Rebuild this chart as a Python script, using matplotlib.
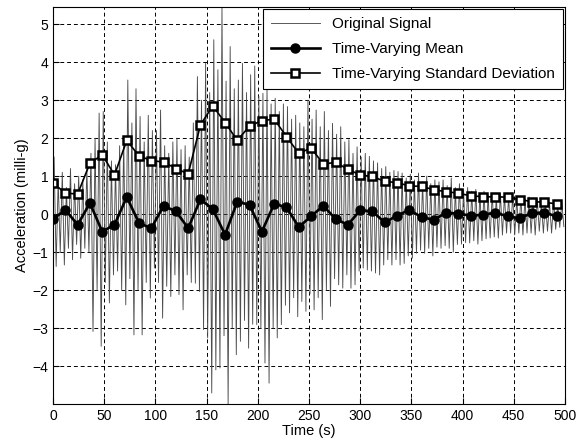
# Time-varying mean and standard deviation of an acceleration record
import numpy as np
import matplotlib.pyplot as plt

plt.rcParams['font.family'] = ['Liberation Sans', 'DejaVu Sans']

# window centres (s) for the time-varying statistics
win_time = [0, 12, 24, 36, 48, 60, 72, 84, 96, 108, 120, 132, 144, 156,
            168, 180, 192, 204, 216, 228, 240, 252, 264, 276, 288, 300,
            312, 324, 336, 348, 360, 372, 384, 396, 408, 420, 432, 444,
            456, 468, 480, 492]

tv_mean = [-0.13, 0.11, -0.28, 0.29, -0.46, -0.28, 0.45, -0.24, -0.37, 0.22,
           0.07, -0.37, 0.39, 0.13, -0.54, 0.33, 0.24, -0.46, 0.27, 0.18,
           -0.34, -0.06, 0.22, -0.13, -0.28, 0.10, 0.07, -0.22, -0.04, 0.11,
           -0.08, -0.15, 0.04, 0.01, -0.04, -0.02, 0.04, -0.06, -0.11, 0.03,
           0.04, -0.06]

tv_std = [0.82, 0.55, 0.53, 1.34, 1.56, 1.03, 1.94, 1.53, 1.41, 1.37,
          1.20, 1.06, 2.35, 2.85, 2.41, 1.94, 2.32, 2.46, 2.50, 2.04,
          1.60, 1.74, 1.32, 1.36, 1.18, 1.03, 0.99, 0.86, 0.83, 0.74,
          0.73, 0.64, 0.59, 0.55, 0.48, 0.46, 0.45, 0.45, 0.38, 0.33,
          0.31, 0.27]

# original signal, read as alternating peaks (t = 1, 5, 9, ...) and troughs (t = 3, 7, 11, ...)
sig_peaks = [1.5, 0.9, 1.1, 0.7, 1.2, 0.8, 1.0, 0.9, 1.2, 1.6,
             2.0, 2.66, 2.7, 1.9, 1.4,
             1.3, 1.8, 2.0, 3.53, 2.4, 3.3, 2.57, 1.9, 2.6, 2.2,
             2.2, 2.74, 1.8, 1.6, 1.9, 2.0, 1.7, 1.8, 1.5, 2.4,
             3.62, 3.0, 3.97, 3.2, 4.59, 3.8, 5.45, 3.5, 4.41, 3.3,
             3.53, 3.97, 3.2, 3.67, 3.9, 3.1, 3.18, 3.36, 2.9, 3.05,
             2.7, 2.9, 2.83, 2.5, 2.6, 2.4, 2.3, 3.0, 2.5, 2.74,
             2.3, 2.7, 2.2, 2.39, 2.1, 2.3, 1.9, 1.96, 1.6, 1.77,
             1.5, 1.6, 1.52, 1.4, 1.35, 1.2, 1.25, 1.1, 1.15, 1.12,
             1.08, 0.95, 1.05, 0.9, 1.08, 0.85, 1.0, 0.8, 0.9, 0.85,
             0.9, 0.75, 0.95, 0.7, 0.8, 0.65, 0.7, 0.6, 0.65, 0.55,
             0.6, 0.5, 0.55, 0.45, 0.55, 0.5, 0.45, 0.5, 0.4, 0.45,
             0.4, 0.45, 0.35, 0.4, 0.3, 0.35, 0.3, 0.35, 0.25, 0.3]

sig_troughs = [-1.38, -1.0, -1.34, -0.9, -1.2, -0.8, -1.16, -0.9, -1.0, -3.09,
               -2.0, -3.48, -1.8, -2.34, -1.6,
               -1.5, -2.0, -2.39, -1.7, -3.18, -2.0, -3.18, -1.8, -2.21, -1.42,
               -1.8, -2.74, -1.9, -2.17, -1.6, -2.12, -2.52, -1.6, -1.8, -1.82,
               -2.04, -3.04, -3.26, -4.71, -4.1, -4.05, -3.2, -5.0, -3.0, -3.7,
               -3.35, -2.8, -3.53, -2.9, -2.91, -3.0, -3.92, -4.45, -3.0, -3.26,
               -2.91, -2.4, -2.6, -2.2, -2.7, -2.3, -2.56, -2.1, -2.52, -2.2,
               -2.78, -2.0, -2.43, -1.7, -1.86, -1.95, -1.6, -1.95, -1.86, -1.5,
               -1.42, -1.47, -1.5, -1.55, -1.6, -1.34, -1.2, -1.34, -1.2, -1.34,
               -1.3, -1.1, -1.16, -1.03, -0.95, -1.03, -0.9, -1.1, -0.87, -0.9,
               -0.83, -0.9, -1.0, -0.8, -0.79, -0.75, -0.76, -0.7, -0.79, -0.7,
               -0.65, -0.63, -0.6, -0.63, -0.55, -0.5, -0.5, -0.55, -0.5, -0.55,
               -0.5, -0.5, -0.55, -0.45, -0.5, -0.45, -0.5, -0.4, -0.35, -0.33]

# interleave peaks and troughs into one trace
t_peak = np.arange(len(sig_peaks)) * 4 + 1
t_trough = t_peak + 2
sig_t = np.column_stack([t_peak, t_trough]).ravel()
sig_v = np.column_stack([sig_peaks, sig_troughs]).ravel()

fig = plt.figure(figsize=(5.77, 4.43), dpi=100)
ax = fig.add_axes([0.092, 0.088, 0.887, 0.896])

ax.plot(sig_t, sig_v, color='0.3', lw=0.65, label='Original Signal')
ax.plot(win_time, tv_mean, color='k', lw=1.9, marker='o', ms=6.5,
        mfc='k', label='Time-Varying Mean')
ax.plot(win_time, tv_std, color='k', lw=1.2, marker='s', ms=6,
        mfc='white', mew=1.8, label='Time-Varying Standard Deviation')

ax.set_xlim(0, 500)
ax.set_ylim(-5, 5.45)
ax.set_xticks(np.arange(0, 501, 50))
ax.set_yticks(np.arange(-4, 6, 1))
ax.tick_params(direction='in', labelsize=10, length=4)
ax.grid(True, color='k', lw=0.7, linestyle=(0, (4, 3)))
ax.set_xlabel('Time (s)', fontsize=10.5, labelpad=1)
ax.set_ylabel('Acceleration (milli-g)', fontsize=10.5, labelpad=2)

leg = ax.legend(loc='upper right', bbox_to_anchor=(0.997, 0.995),
                borderaxespad=0, fontsize=11, handlelength=3.2,
                labelspacing=0.7, borderpad=0.55, fancybox=False,
                framealpha=1, edgecolor='k')
leg.get_frame().set_linewidth(0.8)

fig.savefig('out.png', dpi=100)
